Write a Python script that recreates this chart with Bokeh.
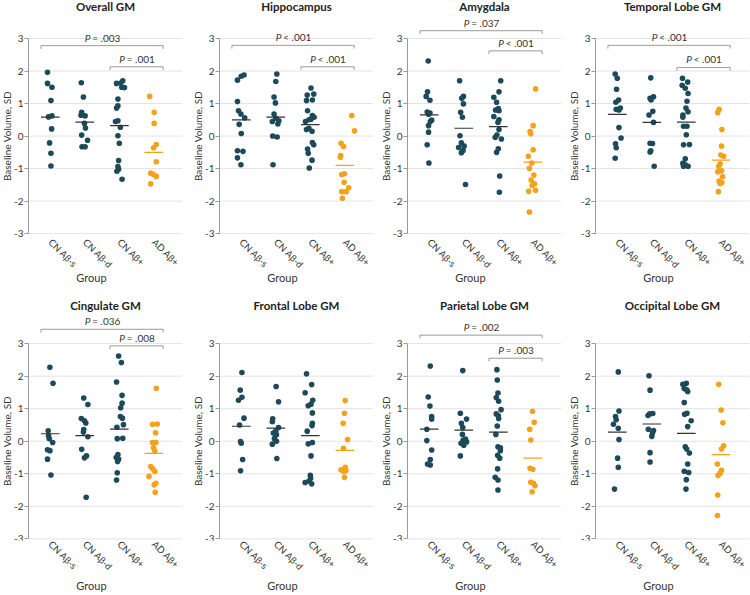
import math
from bokeh.plotting import figure
from bokeh.models import Range1d, FixedTicker
from bokeh.layouts import column, row
from bokeh.embed import file_html
from bokeh.resources import INLINE
from bokeh.core.properties import value

FONT = "Lato"

groups = ["CN Aβ-s", "CN Aβ-d", "CN Aβ+", "AD Aβ+"]
y_ticks = [-3, -2, -1, 0, 1, 2, 3]

# ---------------- data ----------------
overall_gm_values = [
    [1.96, 1.62, 1.50, 1.09, 0.62, 0.59, 0.22, -0.21, -0.53, -0.92],
    [1.64, 1.20, 0.73, 0.64, 0.62, 0.39, 0.25, 0.03, -0.13, -0.33, -0.33],
    [1.62, 1.63, 1.70, 1.50, 1.49, 1.14, 0.93, 0.86, 0.47, 0.45, 0.27, 0.01, -0.22, -0.75, -0.94, -1.02, -1.08, -1.33],
    [1.22, 0.73, 0.39, -0.26, -0.36, -0.79, -1.14, -1.18, -1.24, -1.47],
]
overall_gm_jitter = [
    [-0.08, -0.08, 0.05, 0.02, 0.05, -0.05, 0.04, -0.02, 0.02, 0.02],
    [-0.10, -0.04, -0.09, -0.11, 0.01, -0.01, 0.02, -0.09, 0.08, -0.08, 0.01],
    [-0.08, 0.04, 0.10, 0.07, 0.15, -0.04, -0.04, -0.08, -0.04, -0.11, 0.03, -0.04, 0.0, -0.02, -0.04, -0.02, -0.07, 0.08],
    [-0.12, 0.01, 0.01, 0.07, -0.01, 0.07, -0.09, -0.01, 0.07, -0.09],
]
overall_gm_means = [0.58, 0.43, 0.32, -0.50]
overall_gm_brackets = [(1, 4, 2.78, "= .003"), (3, 4, 2.13, "= .001")]

hippocampus_values = [
    [1.72, 1.84, 1.88, 1.06, 0.78, 0.68, 0.56, 0.36, 0.08, -0.45, -0.47, -0.67, -0.88],
    [1.91, 1.68, 1.20, 1.02, 0.68, 0.55, 0.47, 0.45, 0.37, 0.00, -0.03, -0.88],
    [1.48, 1.29, 1.26, 1.11, 1.09, 0.78, 0.63, 0.58, 0.52, 0.50, 0.45, 0.24, 0.20, 0.15, -0.20, -0.27, -0.40, -0.53, -0.74, -0.98],
    [0.63, 0.16, -0.22, -0.32, -0.60, -0.65, -1.16, -1.18, -1.42, -1.59, -1.71, -1.71, -1.91],
]
hippocampus_jitter = [
    [-0.11, 0.0, 0.08, -0.11, -0.08, -0.01, 0.10, -0.06, 0.0, -0.11, 0.05, -0.11, -0.01],
    [0.03, 0.0, -0.05, -0.01, -0.05, 0.0, 0.09, -0.10, 0.06, -0.09, 0.04, -0.08],
    [0.02, 0.10, -0.09, 0.06, -0.11, -0.08, 0.06, 0.11, 0.02, -0.04, -0.14, -0.04, -0.11, 0.05, 0.06, 0.10, -0.08, -0.06, 0.05, -0.03],
    [0.20, 0.28, -0.11, -0.04, -0.12, -0.13, -0.01, -0.09, -0.02, 0.11, -0.09, 0.04, -0.07],
]
hippocampus_means = [0.50, 0.58, 0.35, -0.90]
hippocampus_brackets = [(1, 4, 2.79, "< .001"), (3, 4, 2.13, "< .001")]

amygdala_values = [
    [2.31, 1.36, 1.22, 1.10, 0.74, 0.71, 0.67, 0.49, 0.45, 0.32, 0.12, -0.27, -0.83],
    [1.70, 1.22, 1.16, 0.99, 0.73, 0.58, 0.01, -0.21, -0.31, -0.35, -0.44, -0.51, -1.49],
    [1.70, 1.36, 1.19, 1.04, 0.85, 0.80, 0.78, 0.60, 0.50, 0.42, 0.20, 0.03, -0.04, -0.09, -0.39, -0.50, -1.23, -1.73],
    [1.45, 0.32, 0.14, 0.07, -0.42, -0.62, -0.83, -0.99, -1.20, -1.35, -1.47, -1.52, -1.70, -1.67, -2.34],
]
amygdala_jitter = [
    [-0.03, -0.05, -0.09, 0.02, -0.06, 0.02, -0.02, 0.07, 0.03, -0.02, -0.02, -0.06, -0.01],
    [-0.12, -0.01, -0.06, -0.01, -0.09, -0.04, -0.11, -0.07, 0.01, -0.15, -0.02, -0.07, 0.05],
    [0.07, 0.02, -0.13, -0.05, 0.0, -0.08, 0.02, -0.13, 0.02, -0.01, 0.02, -0.04, -0.09, 0.09, 0.0, -0.05, 0.04, 0.03],
    [0.08, 0.01, -0.08, -0.06, 0.01, -0.13, -0.03, -0.10, 0.03, -0.05, 0.05, -0.02, -0.12, 0.08, -0.10],
]
amygdala_means = [0.65, 0.24, 0.29, -0.80]
amygdala_brackets = [(1, 4, 3.24, "= .037"), (3, 4, 2.62, "< .001")]

temporal_values = [
    [1.91, 1.78, 1.44, 1.11, 1.04, 0.86, 0.82, 0.80, 0.26, -0.06, -0.24, -0.36, -0.68],
    [1.79, 1.21, 1.16, 1.11, 0.76, 0.65, 0.42, -0.22, -0.23, -0.45, -0.49, -0.93],
    [1.78, 1.66, 1.56, 1.47, 1.31, 1.07, 0.86, 0.75, 0.65, 0.58, 0.30, 0.30, 0.04, -0.26, -0.27, -0.70, -0.84, -0.88, -0.93, -0.93],
    [0.82, 0.72, 0.20, -0.31, -0.58, -0.62, -0.85, -0.93, -1.07, -1.10, -1.25, -1.38, -1.43, -1.46, -1.71],
]
temporal_jitter = [
    [-0.06, 0.0, -0.02, 0.04, -0.04, 0.09, -0.03, 0.05, 0.05, 0.11, -0.05, -0.03, -0.06],
    [-0.03, 0.05, -0.05, -0.02, 0.03, -0.08, 0.05, -0.05, 0.02, -0.03, -0.05, 0.07],
    [-0.11, 0.04, -0.12, -0.03, 0.05, 0.02, -0.01, 0.05, -0.10, -0.10, -0.08, 0.02, 0.0, 0.09, -0.08, -0.03, -0.10, -0.03, -0.08, 0.05],
    [-0.05, -0.09, 0.03, 0.02, 0.0, 0.08, -0.02, -0.06, 0.02, -0.09, 0.05, -0.05, 0.03, -0.02, -0.07],
]
temporal_means = [0.67, 0.42, 0.43, -0.74]
temporal_brackets = [(1, 4, 2.79, "< .001"), (3, 4, 2.11, "< .001")]

cingulate_values = [
    [2.27, 1.78, 0.32, 0.17, 0.08, -0.04, -0.26, -0.29, -0.55, -1.04],
    [1.33, 1.13, 0.70, 0.63, 0.56, 0.36, 0.28, 0.14, -0.25, -0.45, -0.51, -1.72],
    [2.62, 2.42, 1.82, 1.41, 1.17, 1.03, 0.76, 0.71, 0.51, 0.43, 0.08, 0.09, -0.41, -0.50, -0.55, -0.62, -0.97, -1.19],
    [1.63, 0.52, 0.53, 0.26, -0.04, -0.04, -0.20, -0.30, -0.78, -0.85, -0.93, -1.08, -1.29, -1.34, -1.57],
]
cingulate_jitter = [
    [-0.01, 0.08, -0.06, -0.05, -0.03, 0.07, -0.08, -0.01, -0.08, 0.02],
    [-0.03, 0.09, -0.10, -0.01, 0.03, -0.03, -0.04, 0.09, -0.09, 0.05, -0.01, 0.04],
    [-0.02, 0.06, -0.08, 0.08, 0.08, 0.04, 0.03, 0.09, 0.12, -0.07, -0.06, 0.10, -0.04, -0.09, -0.02, -0.05, -0.06, -0.08],
    [0.07, -0.04, 0.10, 0.05, -0.04, 0.06, -0.01, 0.03, -0.09, -0.03, 0.03, -0.14, 0.06, 0.01, 0.04],
]
cingulate_means = [0.23, 0.17, 0.37, -0.37]
cingulate_brackets = [(1, 4, 3.44, "= .036"), (3, 4, 2.93, "= .008")]

frontal_values = [
    [2.11, 1.57, 1.35, 1.26, 0.71, 0.50, -0.01, -0.06, -0.56, -0.91],
    [1.68, 1.21, 0.69, 0.60, 0.42, 0.31, 0.25, 0.20, 0.08, 0.00, -0.09, -0.53],
    [2.07, 1.74, 1.49, 1.26, 1.14, 1.09, 0.87, 0.55, 0.48, 0.31, -0.04, -0.08, -0.45, -1.05, -1.14, -1.22, -1.27, -1.31],
    [1.25, 0.86, 0.55, 0.05, -0.22, -0.80, -0.88, -0.90, -0.93, -1.11],
]
frontal_jitter = [
    [0.02, -0.03, 0.02, -0.08, 0.08, -0.05, -0.02, 0.0, 0.04, -0.02],
    [0.01, 0.08, -0.09, -0.10, 0.08, 0.0, -0.07, 0.02, -0.04, 0.02, -0.10, 0.03],
    [-0.11, 0.04, -0.15, 0.07, 0.02, -0.06, 0.06, 0.06, 0.05, -0.09, 0.06, -0.06, 0.02, 0.0, 0.01, -0.04, -0.15, 0.04],
    [0.01, -0.01, -0.05, 0.08, -0.04, 0.01, -0.11, 0.03, -0.03, -0.01],
]
frontal_means = [0.46, 0.40, 0.17, -0.28]
frontal_brackets = []

parietal_values = [
    [2.31, 1.36, 1.08, 0.76, 0.68, 0.37, 0.02, -0.27, -0.56, -0.70, -0.73],
    [2.17, 0.86, 0.68, 0.55, 0.42, 0.21, 0.07, 0.03, -0.02, -0.06, -0.12, -0.45],
    [2.20, 1.88, 1.48, 1.34, 1.23, 0.97, 0.84, 0.78, 0.70, 0.47, 0.21, -0.17, -0.20, -0.29, -0.43, -0.52, -0.85, -1.11, -1.19, -1.50],
    [0.92, 0.58, 0.37, 0.04, -0.83, -0.86, -1.26, -1.29, -1.37, -1.55],
]
parietal_jitter = [
    [0.03, -0.03, 0.02, 0.07, 0.07, -0.07, -0.07, 0.07, 0.03, -0.05, 0.03],
    [-0.03, -0.10, 0.08, -0.07, -0.03, -0.04, 0.05, -0.02, 0.08, -0.08, 0.0, -0.10],
    [-0.04, -0.03, -0.01, -0.06, 0.01, 0.08, -0.06, 0.0, 0.01, -0.03, -0.07, -0.01, 0.06, 0.06, -0.02, 0.04, -0.02, -0.09, -0.01, -0.01],
    [-0.01, 0.04, -0.09, -0.06, -0.08, 0.0, -0.06, 0.02, 0.06, -0.02],
]
parietal_means = [0.37, 0.34, 0.28, -0.52]
parietal_brackets = [(1, 4, 3.26, "= .002"), (3, 4, 2.55, "= .003")]

occipital_values = [
    [2.13, 0.93, 0.76, 0.66, 0.52, 0.40, 0.05, -0.52, -0.80, -1.47],
    [2.01, 1.57, 0.85, 0.84, 0.79, 0.37, 0.33, 0.25, 0.15, -0.35, -0.64],
    [1.78, 1.75, 1.62, 1.58, 1.53, 1.19, 0.86, 0.83, 0.63, 0.45, -0.17, -0.24, -0.36, -0.70, -0.92, -0.96, -1.18, -1.47],
    [1.75, 0.96, 0.57, -0.14, -0.24, -0.70, -0.89, -0.98, -1.05, -1.65, -2.28],
]
occipital_jitter = [
    [0.03, 0.05, -0.05, -0.03, -0.11, 0.03, 0.05, 0.01, 0.03, -0.08],
    [-0.08, -0.05, 0.03, -0.06, -0.11, -0.10, 0.05, 0.02, 0.0, -0.05, -0.05],
    [0.0, -0.10, -0.06, 0.01, 0.04, -0.06, 0.02, -0.05, 0.14, 0.04, -0.03, 0.01, 0.09, 0.04, -0.06, 0.07, 0.0, -0.01],
    [-0.06, 0.01, 0.06, 0.08, 0.02, -0.10, 0.02, -0.02, -0.08, -0.09, -0.10],
]
occipital_means = [0.28, 0.53, 0.24, -0.41]
occipital_brackets = []

panels = [
    ("Overall GM", overall_gm_values, overall_gm_jitter, overall_gm_means, overall_gm_brackets),
    ("Hippocampus", hippocampus_values, hippocampus_jitter, hippocampus_means, hippocampus_brackets),
    ("Amygdala", amygdala_values, amygdala_jitter, amygdala_means, amygdala_brackets),
    ("Temporal Lobe GM", temporal_values, temporal_jitter, temporal_means, temporal_brackets),
    ("Cingulate GM", cingulate_values, cingulate_jitter, cingulate_means, cingulate_brackets),
    ("Frontal Lobe GM", frontal_values, frontal_jitter, frontal_means, frontal_brackets),
    ("Parietal Lobe GM", parietal_values, parietal_jitter, parietal_means, parietal_brackets),
    ("Occipital Lobe GM", occipital_values, occipital_jitter, occipital_means, occipital_brackets),
]

# ---------------- styling / layout ----------------
DOT_CN = "#1d4a5b"
DOT_AD = "#f6a11c"
MEAN_CN = "#333333"
TEXT = "#333333"
GRID = "#e3e3e3"
AXIS = "#9a9a9a"

PX_PER_UNIT = 34.53
AXIS_X = 0.37            # data position of the y axis (plot area left edge)
X_END = 4.83
X_START = AXIS_X - 28 / PX_PER_UNIT   # leaves room for y tick labels and axis title
HALF = 0.27
WIDTHS = [191, 188, 188, 183]
ROW_H = [292, 303]
Y_START = [-3.15, -3.05]
Y_END = [4.169, 4.57]
BORDER_B = [54, 55]
TITLE_Y = [3.97, 4.17]
GROUP_STANDOFF = [-6, 0]

EM = {"P": 0.58, " ": 0.19, "=": 0.58, "<": 0.58, ".": 0.23}
P_SIZE = 10


def text_w(s):
    return sum(EM.get(ch, 0.58) for ch in s) * P_SIZE


def make_panel(idx):
    title, vals, jit, means, brackets = panels[idx]
    r = idx // 4
    w = WIDTHS[idx % 4]
    frame_w = round((X_END - X_START) * PX_PER_UNIT)
    p = figure(width=w, height=ROW_H[r],
               x_range=Range1d(X_START, X_END), y_range=Range1d(Y_START[r], Y_END[r]),
               output_backend="svg", toolbar_location=None,
               min_border_left=0, min_border_right=max(w - frame_w, 0),
               min_border_top=0, min_border_bottom=BORDER_B[r])
    p.outline_line_color = None
    p.background_fill_color = "white"
    p.border_fill_color = "white"
    p.xgrid.visible = False
    p.ygrid.visible = False

    # horizontal reference lines only across the plot area
    p.segment(x0=[AXIS_X] * len(y_ticks), x1=[X_END] * len(y_ticks), y0=y_ticks, y1=y_ticks,
              line_color=GRID, line_width=1)

    ya = p.yaxis[0]
    ya.fixed_location = AXIS_X
    ya.ticker = FixedTicker(ticks=y_ticks)
    ya.major_label_overrides = {t: (f"-{abs(t)}" if t < 0 else str(t)) for t in y_ticks}
    ya.bounds = (-3, 3)
    ya.axis_line_color = AXIS
    ya.major_tick_line_color = AXIS
    ya.major_tick_out = 4
    ya.major_tick_in = 0
    ya.minor_tick_line_color = None
    ya.major_label_standoff = 1
    ya.major_label_text_font = FONT
    ya.major_label_text_font_size = "10px"
    ya.major_label_text_color = TEXT
    ya.axis_label = "Baseline Volume, SD"
    ya.axis_label_text_font = FONT
    ya.axis_label_text_font_size = "10px"
    ya.axis_label_text_font_style = "normal"
    ya.axis_label_text_color = TEXT
    ya.axis_label_standoff = -2

    xa = p.xaxis[0]
    xa.ticker = FixedTicker(ticks=[1, 2, 3, 4])
    xa.major_label_overrides = {i + 1: g for i, g in enumerate(groups)}
    xa.major_label_orientation = -math.pi / 4
    xa.axis_line_color = None
    xa.major_tick_line_color = None
    xa.minor_tick_line_color = None
    xa.major_tick_out = 0
    xa.major_tick_in = 0
    xa.major_label_standoff = 2
    xa.major_label_text_font = FONT
    xa.major_label_text_font_size = "9.5px"
    xa.major_label_text_color = TEXT
    xa.axis_label = "Group"
    xa.axis_label_text_font = FONT
    xa.axis_label_text_font_size = "11px"
    xa.axis_label_text_font_style = "normal"
    xa.axis_label_text_color = TEXT
    xa.axis_label_standoff = GROUP_STANDOFF[r]

    # panel title, centred over the plot area
    p.text(x=[(AXIS_X + X_END) / 2], y=[TITLE_Y[r]], text=[title],
           text_font=value(FONT), text_font_size="11.5px", text_font_style="bold",
           text_color="#222222", text_align="center", text_baseline="middle")

    for gi in range(4):
        xs = [gi + 1 + j for j in jit[gi]]
        color = DOT_AD if gi == 3 else DOT_CN
        p.scatter(xs, vals[gi], size=5.6, fill_color=color, line_color=None)
        p.segment(x0=[gi + 1 - HALF], x1=[gi + 1 + HALF], y0=[means[gi]], y1=[means[gi]],
                  line_color=DOT_AD if gi == 3 else MEAN_CN, line_width=1.2)

    for g0, g1, yb, lab in brackets:
        x0, x1 = g0 - HALF, g1 + HALF
        arm = 0.1
        p.line([x0, x0, x1, x1], [yb - arm, yb, yb, yb - arm], line_color=AXIS, line_width=1)
        xc = (x0 + x1) / 2
        wP = text_w("P")
        wS = text_w(" ")
        wR = text_w(lab)
        left = -(wP + wS + wR) / 2
        p.text(x=[xc], y=[yb], text=["P"], text_font=value(FONT), text_font_size=f"{P_SIZE}px",
               text_font_style="italic", text_color=TEXT, text_align="right",
               text_baseline="middle", x_offset=left + wP, y_offset=-8)
        p.text(x=[xc], y=[yb], text=[lab], text_font=value(FONT), text_font_size=f"{P_SIZE}px",
               text_color=TEXT, text_align="left", text_baseline="middle",
               x_offset=left + wP + wS, y_offset=-8)
    return p


figs = [make_panel(i) for i in range(8)]
layout = column(row(*figs[:4]), row(*figs[4:]))
open("out.html", "w").write(file_html(layout, INLINE))
